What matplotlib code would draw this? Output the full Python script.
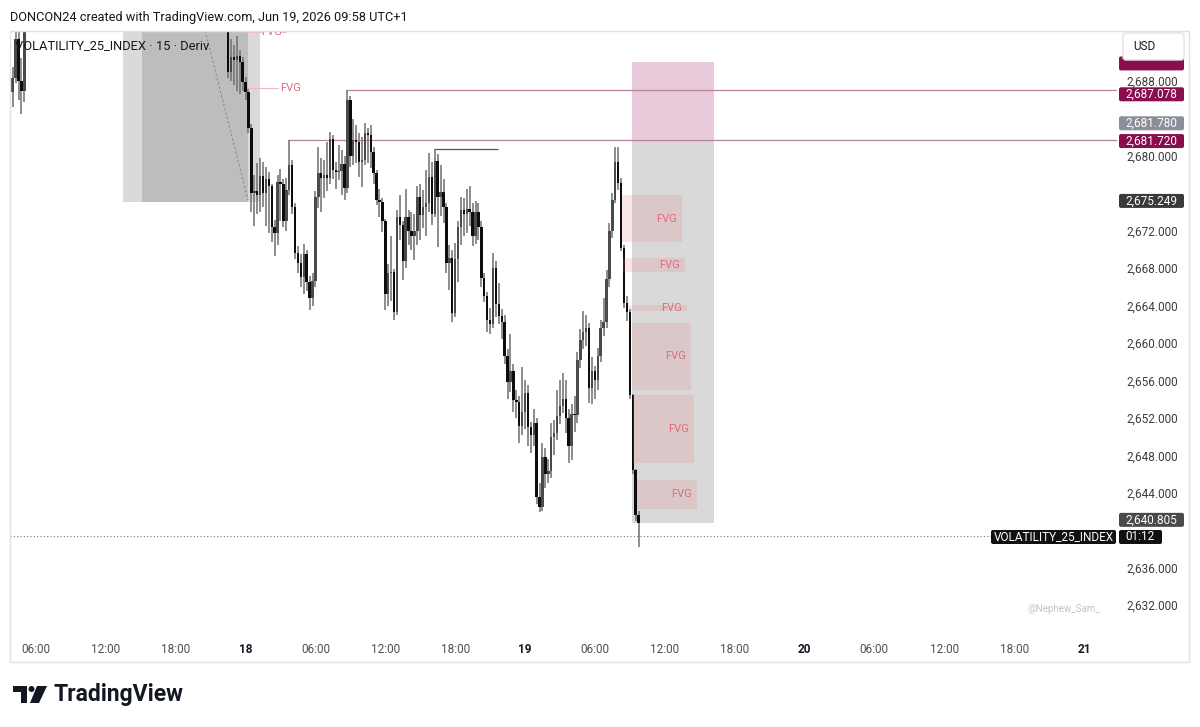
import matplotlib
matplotlib.use("Agg")
import matplotlib.pyplot as plt
from matplotlib.patches import Rectangle, FancyBboxPatch, Polygon, Circle
from matplotlib.ticker import FuncFormatter

plt.rcParams['font.family'] = ['Roboto', 'DejaVu Sans']

#===================================================================#
#                              DATA                                 #
#===================================================================#

# hours counted from Jun 17 00:00, 15 min candles
seg_a_start = 4.0
seg_a_open = [2686.8]
seg_a_close = [2688.3, 2692.5, 2688.0, 2687.0, 2693.8]
seg_a_high = [2689.5, 2693.8, 2693.5, 2690.5, 2695.0]
seg_a_low = [2685.2, 2687.8, 2686.0, 2684.5, 2685.8]

seg_b_start = 22.5
seg_b_open = [2694.5]
seg_b_close = [
    2689.0, 2690.6, 2690.3, 2690.7, 2690.0, 2687.9, 2686.8, 2683.0, 2676.0, 2676.3,
    2675.8, 2677.9, 2676.0, 2677.5, 2676.8, 2672.4, 2671.8, 2677.2, 2677.0, 2673.0,
    2676.4, 2679.0, 2674.5, 2669.6, 2668.6, 2667.1, 2669.5, 2666.5, 2664.8, 2666.6,
    2675.6, 2678.2, 2677.6, 2678.0, 2677.7, 2681.8, 2678.5, 2678.3, 2678.4, 2679.2,
    2676.6, 2686.0, 2680.0, 2681.7, 2681.5, 2679.4, 2679.6, 2682.5, 2682.3, 2680.4,
    2678.2, 2675.3, 2675.1, 2673.0, 2665.2, 2667.5, 2667.6, 2663.3, 2673.5, 2672.6,
    2668.8, 2673.5, 2672.0, 2671.5, 2672.0, 2675.6, 2673.7, 2674.5, 2675.0, 2677.8,
    2673.8, 2679.5, 2675.6, 2676.1, 2674.5, 2668.6, 2669.1, 2663.2, 2669.0, 2672.4,
    2674.2, 2673.8, 2674.3, 2674.0, 2671.5, 2674.0, 2672.4, 2667.0, 2665.0, 2662.5,
    2662.0, 2668.0, 2664.2, 2662.9, 2662.3, 2658.6, 2655.8, 2657.0, 2653.9, 2653.7,
    2651.1, 2652.6, 2654.7, 2651.0, 2650.2, 2651.5, 2643.5, 2642.5, 2647.8, 2646.0,
    2646.3, 2650.0, 2650.4, 2652.2, 2653.3, 2654.0, 2652.0, 2649.0, 2652.4, 2652.3,
    2658.2, 2660.3, 2661.2, 2661.6, 2655.2, 2657.0, 2656.0, 2658.6, 2661.6, 2662.3,
    2666.9, 2672.0, 2675.3, 2679.4, 2677.1, 2670.2, 2664.3, 2663.3, 2654.4, 2646.4,
    2641.6, 2640.8]
seg_b_high = [
    2695.5, 2692.5, 2691.9, 2692.8, 2691.3, 2690.6, 2688.5, 2687.2, 2683.4, 2678.0,
    2679.3, 2679.8, 2679.4, 2678.8, 2678.3, 2677.0, 2673.2, 2678.0, 2678.6, 2677.5,
    2677.6, 2681.7, 2679.6, 2675.0, 2670.4, 2669.5, 2670.6, 2670.0, 2667.2, 2667.5,
    2676.3, 2681.0, 2679.8, 2679.6, 2681.5, 2682.6, 2682.2, 2679.4, 2681.2, 2680.6,
    2680.0, 2687.1, 2686.4, 2684.0, 2683.3, 2682.5, 2682.0, 2683.5, 2683.0, 2683.3,
    2681.0, 2678.5, 2676.5, 2675.5, 2673.3, 2668.5, 2671.5, 2667.9, 2674.2, 2675.8,
    2673.0, 2676.5, 2674.2, 2674.0, 2673.8, 2676.8, 2677.0, 2676.4, 2678.5, 2680.3,
    2679.4, 2680.8, 2680.2, 2679.0, 2677.5, 2675.0, 2670.5, 2670.0, 2670.7, 2673.0,
    2675.6, 2675.5, 2676.5, 2676.8, 2675.0, 2675.2, 2675.0, 2673.0, 2667.5, 2665.5,
    2663.8, 2669.6, 2668.8, 2666.4, 2663.6, 2663.0, 2659.4, 2661.0, 2657.8, 2655.0,
    2654.3, 2657.4, 2656.0, 2655.5, 2651.6, 2653.0, 2652.0, 2645.0, 2649.3, 2648.8,
    2647.6, 2651.5, 2651.8, 2655.0, 2656.0, 2656.8, 2656.0, 2653.0, 2653.5, 2654.3,
    2659.0, 2661.5, 2663.4, 2663.0, 2662.2, 2658.5, 2657.6, 2659.5, 2662.5, 2664.8,
    2667.8, 2672.8, 2676.0, 2681.0, 2681.0, 2677.6, 2670.5, 2665.0, 2663.6, 2654.6,
    2646.5, 2642.0]
seg_b_low = [
    2688.3, 2688.0, 2687.6, 2687.0, 2686.6, 2686.9, 2686.0, 2682.5, 2674.0, 2672.5,
    2673.8, 2674.0, 2674.5, 2672.5, 2671.8, 2670.8, 2669.3, 2670.5, 2673.0, 2672.4,
    2672.0, 2675.8, 2673.8, 2669.0, 2667.5, 2666.0, 2665.2, 2665.6, 2663.5, 2664.0,
    2666.0, 2674.4, 2674.0, 2675.5, 2676.3, 2677.0, 2677.5, 2676.5, 2677.4, 2675.8,
    2675.3, 2676.0, 2678.8, 2679.0, 2679.3, 2677.8, 2676.7, 2679.0, 2679.3, 2678.7,
    2677.0, 2674.8, 2673.5, 2671.9, 2663.5, 2664.0, 2664.5, 2662.5, 2663.0, 2671.0,
    2666.7, 2668.0, 2670.5, 2670.0, 2668.9, 2670.5, 2671.0, 2672.3, 2671.5, 2674.0,
    2672.6, 2673.5, 2670.3, 2673.6, 2672.8, 2667.5, 2665.7, 2662.3, 2662.8, 2666.5,
    2670.5, 2671.4, 2671.8, 2672.5, 2670.4, 2670.6, 2671.0, 2666.0, 2664.4, 2661.2,
    2661.0, 2661.6, 2662.8, 2662.0, 2660.4, 2657.8, 2654.0, 2654.8, 2652.6, 2652.0,
    2649.3, 2650.2, 2650.8, 2649.0, 2648.2, 2649.0, 2642.8, 2641.9, 2642.0, 2644.5,
    2645.0, 2645.6, 2648.0, 2649.6, 2651.3, 2652.5, 2650.4, 2647.2, 2647.5, 2650.5,
    2651.5, 2657.3, 2659.4, 2659.7, 2653.6, 2653.5, 2654.0, 2655.0, 2658.0, 2660.8,
    2661.6, 2666.0, 2671.2, 2675.0, 2676.4, 2669.8, 2663.8, 2662.4, 2654.0, 2646.0,
    2641.0, 2638.2]

# FVG zones: start hour, end hour, low, high
fvg_start = [56.33, 56.42, 56.85, 57.19, 57.28, 57.62]
fvg_end = [61.48, 61.74, 61.91, 62.26, 62.52, 62.77]
fvg_low = [2670.8, 2667.6, 2663.4, 2655.0, 2647.2, 2642.3]
fvg_high = [2675.8, 2669.1, 2664.1, 2662.2, 2654.5, 2645.4]

# level lines: start hour, end hour, price
lvl_start = [27.65, 32.71, 40.18]
lvl_end = [99.0, 99.0, 45.68]
lvl_price = [2681.72, 2687.078, 2680.8]
lvl_color = ['#b7849c', '#b7849c', '#555555']

last_line_price = 2639.4

# 2640, 2676 and 2684 sit under the price badges
yticks = [2632, 2636, 2644, 2648, 2652, 2656, 2660, 2664, 2668, 2672, 2680, 2688]
xtick_hours = [6, 12, 18, 24, 30, 36, 42, 48, 54, 60, 66, 72, 78, 84, 90, 96]
xtick_labels = ['06:00', '12:00', '18:00', '18', '06:00', '12:00', '18:00', '19',
                '06:00', '12:00', '18:00', '20', '06:00', '12:00', '18:00', '21']

# price badges: display price, text, colour
badge_price = [2686.6, 2683.5, 2681.6, 2675.2, 2641.1]
badge_text = ['2,687.078', '2,681.780', '2,681.720', '2,675.249', '2,640.805']
badge_color = ['#880e4f', '#8c8f99', '#880e4f', '#3a3a3a', '#4a4a4a']
hidden_badge_price = 2689.9

#===================================================================#
#                              FIGURE                               #
#===================================================================#

W, H = 1200, 727
X0, X1, Y0, Y1 = 10, 1117, 32, 632
XMIN, XMAX = 3.77, 98.84
YMIN, YMAX = 2629.11, 2693.26

fig = plt.figure(figsize=(W / 100, H / 100), dpi=100)
fig.patch.set_facecolor('white')
ax = fig.add_axes([X0 / W, 1 - Y1 / H, (X1 - X0) / W, (Y1 - Y0) / H])
ax.set_xlim(XMIN, XMAX)
ax.set_ylim(YMIN, YMAX)
for s in ax.spines.values():
    s.set_visible(False)


def ypx(price):
    return Y0 + (YMAX - price) / (YMAX - YMIN) * (Y1 - Y0)


# boxes on the left
ax.add_patch(Rectangle((13.47, 2675.1), 25.24 - 13.47, 30, fc='#dadada', ec='none', zorder=1))
ax.add_patch(Rectangle((15.11, 2675.1), 24.21 - 15.11, 30, fc='#bdbdbd', ec='none', zorder=1.1))
ax.plot([20.52, 24.21], [2693.4, 2675.3], color='#8a8a8a', lw=0.8, ls=(0, (2, 2)), zorder=1.2)

# boxes on the right
ax.add_patch(Rectangle((57.2, 2681.72), 7.05, 2690.1 - 2681.72, fc='#e8cadb', ec='none', zorder=1))
ax.add_patch(Rectangle((57.2, 2640.75), 7.05, 2681.72 - 2640.75, fc='#d9d9d9', ec='none', zorder=1))

# fvg label lines at top left
ax.plot([24.21, 25.4], [2693.3, 2693.3], color='#f0b8c0', lw=0.8, zorder=2)
ax.plot([27.0, 27.5], [2693.3, 2693.3], color='#f0b8c0', lw=0.8, zorder=2)
ax.text(26.2, 2693.3, 'FVG', color='#e26b79', fontsize=8, ha='center', va='center', zorder=2, clip_on=True)
ax.plot([24.21, 26.8], [2687.25, 2687.25], color='#f0b8c0', lw=0.8, zorder=2)
ax.text(27.0, 2687.25, 'FVG', color='#e26b79', fontsize=8, ha='left', va='center', zorder=2)

# level lines
for a, b, p, c in zip(lvl_start, lvl_end, lvl_price, lvl_color):
    ax.plot([a, b], [p, p], color=c, lw=0.9, zorder=2, solid_capstyle='butt')

ax.axhline(last_line_price, color='#7a7a7a', lw=0.8, ls=(0, (1, 2)), zorder=2)


def draw_candles(start, first_open, closes, highs, lows):
    opens = first_open + closes[:-1]
    times = [start + 0.25 * i for i in range(len(closes))]
    ax.vlines(times, lows, highs, color='#6e6e6e', lw=1.1, zorder=3)
    for t, o, c in zip(times, opens, closes):
        col = '#4a4a4a' if c >= o else '#0d0d0d'
        ax.bar(t, max(abs(c - o), 0.15), 0.21, bottom=min(o, c), color=col, lw=0, zorder=4)


draw_candles(seg_a_start, seg_a_open, seg_a_close, seg_a_high, seg_a_low)
draw_candles(seg_b_start, seg_b_open, seg_b_close, seg_b_high, seg_b_low)

# fvg boxes
for a, b, lo, hi in zip(fvg_start, fvg_end, fvg_low, fvg_high):
    ax.add_patch(Rectangle((a, lo), b - a, hi - lo, fc=(0.9, 0.45, 0.5, 0.18), ec='none', zorder=5))
    ax.text(b - 0.45, (lo + hi) / 2, 'FVG', color='#e26b79', fontsize=8, ha='right', va='center', zorder=6)

# axes ticks
ax.yaxis.tick_right()
ax.set_yticks(yticks)
ax.yaxis.set_major_formatter(FuncFormatter(lambda v, p: f'{v:,.3f}'))
ax.tick_params(axis='y', length=0, pad=7, labelsize=8.5, labelcolor='#3c3c3c')
ax.set_xticks(xtick_hours)
ax.set_xticklabels(xtick_labels)
ax.tick_params(axis='x', length=0, pad=8, labelsize=8.5, labelcolor='#505050')
for lab in ax.get_xticklabels():
    if ':' not in lab.get_text():
        lab.set_fontweight('bold')
        lab.set_color('#131722')

#===================================================================#
#                         OVERLAY IN PIXELS                         #
#===================================================================#

ov = fig.add_axes([0, 0, 1, 1], zorder=5)
ov.set_xlim(0, W)
ov.set_ylim(H, 0)
ov.axis('off')

ov.add_patch(Rectangle((10, 31), 1179, 631, fc='none', ec='#e3e3e6', lw=1))

ov.text(10, 17, 'DONCON24 created with TradingView.com, Jun 19, 2026 09:58 UTC+1',
        fontsize=9.2, color='#131722', va='center', ha='left')
ov.text(15, 46, 'VOLATILITY_25_INDEX · 15 · Deriv', fontsize=9.3, color='#131722',
        va='center', ha='left')


def badge(x, y, w, text, fc, h=14):
    ov.add_patch(FancyBboxPatch((x, y - h / 2), w, h, boxstyle='round,pad=0,rounding_size=2',
                                fc=fc, ec='none'))
    if text:
        ov.text(x + w / 2, y, text, fontsize=8.5, color='white', ha='center', va='center')


badge(1119, ypx(hidden_badge_price), 65, '', '#880e4f')
for p, t, c in zip(badge_price, badge_text, badge_color):
    badge(1119, ypx(p), 65, t, c)
badge(1119, 537, 43, '01:12', '#111111')
badge(991, 537, 125, 'VOLATILITY_25_INDEX', '#111111')

# currency box
ov.add_patch(FancyBboxPatch((1123, 33), 61, 27, boxstyle='round,pad=0,rounding_size=3',
                            fc='white', ec='#e3e3e6', lw=1))
ov.text(1133, 47, 'USD', fontsize=8.5, color='#131722', va='center', ha='left')

ov.text(1064, 609, '@Nephew_Sam_', fontsize=7, color='#c4c4c4', va='center', ha='center')

# logo
ov.add_patch(Rectangle((13, 686), 14, 6, fc='#131722', ec='none'))
ov.add_patch(Rectangle((21, 686), 6, 17, fc='#131722', ec='none'))
ov.add_patch(Circle((31.5, 689), 3, fc='#131722', ec='none'))
ov.add_patch(Polygon([(37, 686), (47, 686), (39, 703), (30, 703)], closed=True, fc='#131722', ec='none'))
ov.text(54, 694, 'TradingView', fontsize=16.5, fontweight='bold', color='#131722', va='center', ha='left')

fig.savefig('out.png', dpi=100)
